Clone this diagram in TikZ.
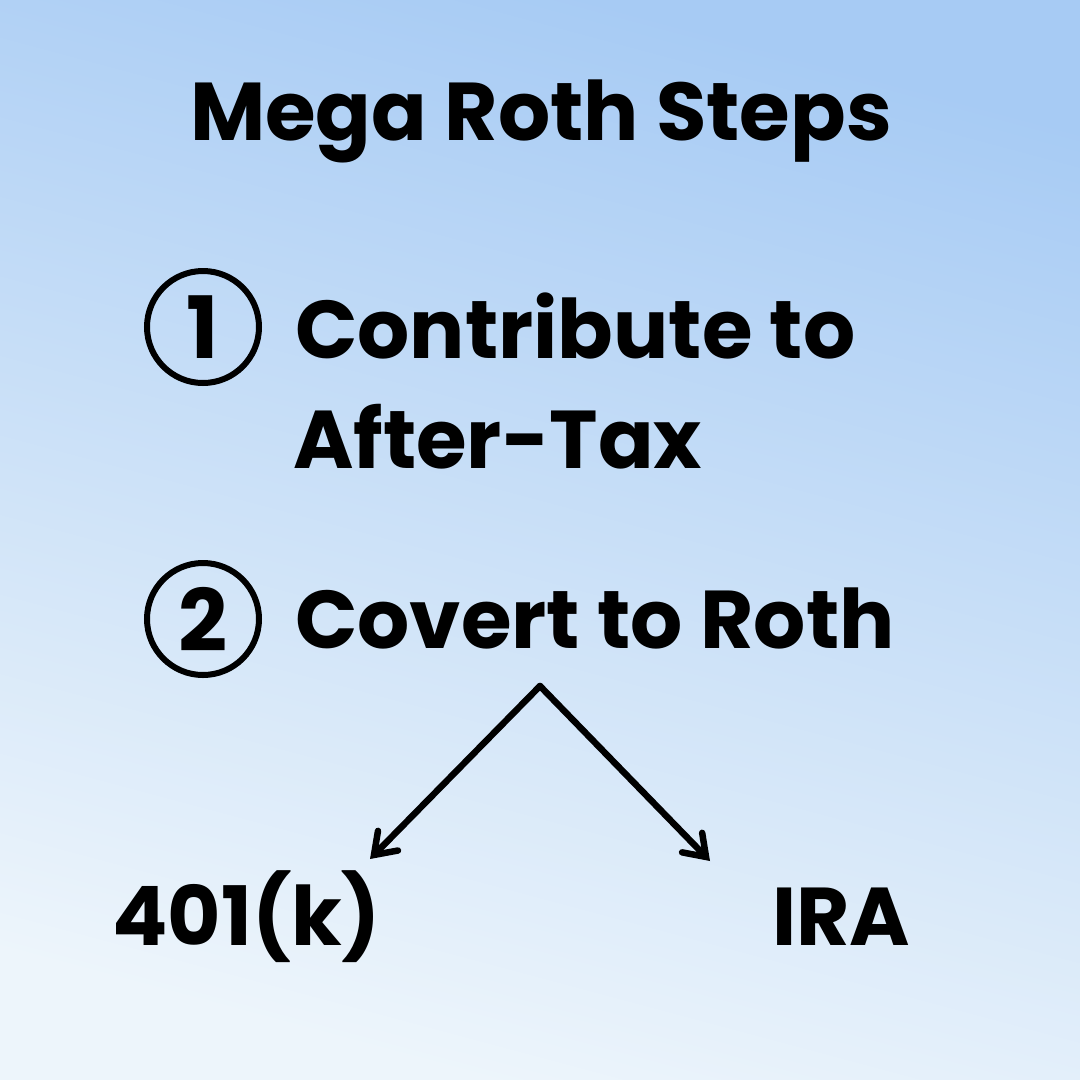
\documentclass[tikz,border=0pt]{standalone}
\usepackage{fontspec}
\setmainfont{Poppins}
\usetikzlibrary{arrows.meta}
\definecolor{bgtop}{HTML}{A7CBF4}
\definecolor{bgmid}{HTML}{CDE8FC}
\definecolor{bgbot}{HTML}{EDF5FB}
\tikzset{
  txt/.style={anchor=base west, inner sep=0pt, font=\bfseries\fontsize{82}{98}\selectfont},
  numring/.style={circle, draw=black, line width=6pt, minimum size=112pt, inner sep=0pt,
     font=\bfseries\fontsize{86}{98}\selectfont},
  branch/.style={line width=6.5pt, line cap=round, -{Straight Barb[length=20pt,width=28pt,line cap=round]}}
}
\begin{document}
\begin{tikzpicture}[x=1pt,y=-1pt]
\shade[shading=axis, top color=bgtop, middle color=bgmid, bottom color=bgbot, shading angle=-15]
  (0,0) rectangle (1080,1080);
\useasboundingbox (0,0) rectangle (1080,1080);
\node[txt, anchor=base] (title) at (541,140) {Mega Roth Steps};
\node[numring] (n1) at (203,327) {1};
\node[numring] (n2) at (203,619) {2};
\node[txt] (s1a) at (295,358) {Contribute to};
\node[txt] (s1b) at (293,468) {After-Tax};
\node[txt] (s2) at (295,648) {Covert to Roth};
\node[txt] (k401) at (112,945) {401(k)};
\node[txt] (ira) at (772,945) {IRA};
\coordinate (apex) at (540,686);
\coordinate (tipL) at (370,859);
\coordinate (tipR) at (710,861);
\draw[branch] (apex) -- (tipL);
\draw[branch] (apex) -- (tipR);
\end{tikzpicture}
\end{document}
